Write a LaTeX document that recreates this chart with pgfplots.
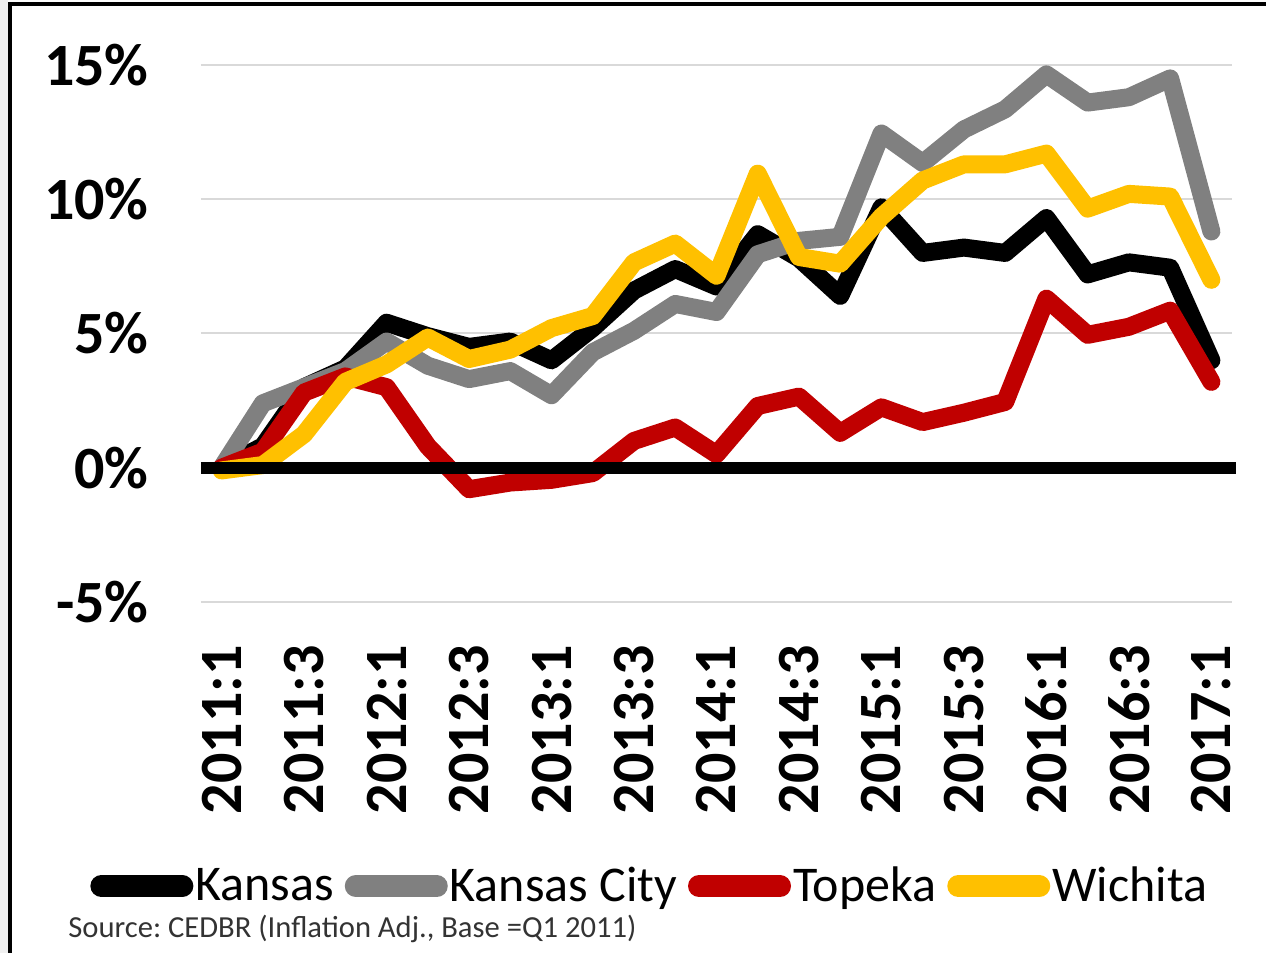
\documentclass[border=0pt]{standalone}
\usepackage{fontspec}
\setmainfont{Carlito}
\usepackage{pgfplots}
\pgfplotsset{compat=1.18}
\definecolor{kgray}{HTML}{808080}
\definecolor{kred}{HTML}{C00000}
\definecolor{kyel}{HTML}{FFC000}
\definecolor{gridc}{HTML}{D9D9D9}
\frenchspacing
\begin{document}
\begin{tikzpicture}[x=1pt,y=1pt]
\useasboundingbox (-100.5,-175.5) rectangle (532.5,301);
\fill[gray!12] (-100.5,-175.5) rectangle (-96.5,301);
\draw[line width=2pt] (-95.5,-176) -- (-95.5,299) -- (533,299);
\begin{axis}[
  at={(0,0)}, anchor=south west,
  scale only axis, width=515.5pt, height=268.5pt,
  xmin=-0.5, xmax=24.5, ymin=-5, ymax=15,
  axis line style={draw=none}, major tick length=0pt,
  ytick={-5,0,5,10,15}, yticklabels={-5\%,0\%,5\%,10\%,15\%},
  xtick={0,2,...,24},
  xticklabels={2011:1,2011:3,2012:1,2012:3,2013:1,2013:3,2014:1,2014:3,2015:1,2015:3,2016:1,2016:3,2017:1},
  ymajorgrids, grid style={gridc, line width=1pt},
  tick label style={font=\fontsize{30}{30}\bfseries\selectfont, inner sep=0pt},
  xticklabel style={rotate=90, anchor=east},
  xticklabel shift=21.5pt, yticklabel shift=26pt,
  clip=false,
  every axis plot/.append style={line width=9pt, line cap=round, line join=round},
  legend columns=4,
  legend style={at={(axis description cs:-0.1077,-0.529)}, anchor=west, draw=none, fill=none,
    font=\fontsize{25}{25}\selectfont, inner sep=0pt,
    nodes={inner sep=0pt},
    /tikz/every even column/.append style={column sep=5.5pt},
    /tikz/every odd column/.append style={column sep=1pt}},
  legend image code/.code={\draw[#1, line width=11pt, line cap=round] (0pt,0pt) -- (40.5pt,0pt);},
]
\addplot[black] coordinates {(0,0) (1,0.8) (2,3.0) (3,3.7) (4,5.4) (5,4.9) (6,4.5) (7,4.7) (8,4.0) (9,5.2) (10,6.6) (11,7.4) (12,6.75) (13,8.7) (14,7.8) (15,6.4) (16,9.7) (17,8.0) (18,8.2) (19,8.0) (20,9.3) (21,7.2) (22,7.65) (23,7.45) (24,4.0)};
\addlegendentry{Kansas}
\addplot[kgray] coordinates {(0,0) (1,2.4) (2,3.0) (3,3.6) (4,4.7) (5,3.8) (6,3.3) (7,3.6) (8,2.7) (9,4.3) (10,5.1) (11,6.1) (12,5.8) (13,7.95) (14,8.45) (15,8.6) (16,12.45) (17,11.35) (18,12.6) (19,13.35) (20,14.65) (21,13.6) (22,13.8) (23,14.5) (24,8.8)};
\addlegendentry{Kansas City}
\addplot[kred] coordinates {(0,0) (1,0.6) (2,2.8) (3,3.4) (4,3.0) (5,0.8) (6,-0.8) (7,-0.55) (8,-0.45) (9,-0.2) (10,1.0) (11,1.5) (12,0.5) (13,2.3) (14,2.65) (15,1.3) (16,2.25) (17,1.7) (18,2.05) (19,2.45) (20,6.3) (21,4.95) (22,5.25) (23,5.85) (24,3.2)};
\addlegendentry{Topeka}
\addplot[kyel] coordinates {(0,-0.1) (1,0.1) (2,1.25) (3,3.2) (4,3.85) (5,4.85) (6,4.05) (7,4.4) (8,5.2) (9,5.65) (10,7.65) (11,8.35) (12,7.15) (13,10.95) (14,7.85) (15,7.6) (16,9.35) (17,10.7) (18,11.3) (19,11.3) (20,11.7) (21,9.65) (22,10.2) (23,10.1) (24,7.0)};
\addlegendentry{Wichita}
\addplot[black, line width=6pt, line cap=butt, forget plot] coordinates {(-0.5,0) (24.6,0)};
\end{axis}
\node[anchor=west, font=\fontsize{15.3}{15.3}\selectfont, text=black!80, inner sep=0pt] at (-66.5,-163.5) {Source: CEDBR (Inflation Adj., Base =Q1 2011)};
\end{tikzpicture}
\end{document}
